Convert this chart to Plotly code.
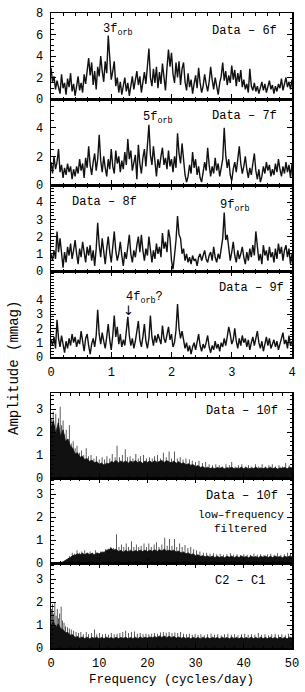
import plotly.graph_objects as go

# ---------------- data ----------------
freq_top = [round(i * 0.025, 3) for i in range(161)]
freq_bot = [round(i * 0.5, 1) for i in range(101)]

amp_6f = [2.9, 1.6, 2.1, 0.9, 1.7, 1.2, 0.5, 2.3, 1.0, 1.5,
          0.4, 1.9, 1.1, 2.4, 0.7, 1.4, 0.3, 1.2, 2.1, 0.8,
          1.5, 0.6, 2.3, 1.4, 2.8, 3.8, 2.2, 3.4, 1.3, 2.6,
          0.9, 3.0, 2.1, 4.0, 2.6, 1.6, 3.5, 2.4, 5.9, 3.6,
          1.8, 2.6, 3.5, 1.2, 2.0, 0.6, 1.6, 0.4, 1.3, 2.0,
          0.7, 1.5, 0.3, 1.1, 2.1, 0.9, 1.8, 2.6, 1.3, 2.1,
          0.6, 1.7, 2.5, 1.4, 3.2, 4.7, 2.0, 1.2, 2.8, 1.5,
          3.0, 1.0, 2.5, 1.4, 3.3, 1.9, 0.8, 2.9, 4.6, 3.0,
          4.3, 2.3, 1.5, 3.4, 2.0, 3.5, 1.3, 2.8, 3.4, 1.6,
          0.8, 2.4, 1.1, 1.8, 0.5, 1.4, 2.2, 1.0, 2.9, 1.5,
          0.6, 1.2, 2.3, 1.4, 0.7, 1.6, 3.0, 1.8, 0.9, 2.0,
          1.2, 0.4, 1.5, 2.1, 3.4, 1.7, 2.6, 1.3, 2.2, 1.5,
          3.1, 1.8, 2.7, 1.2, 2.4, 1.6, 2.7, 1.1, 1.8, 0.9,
          1.4, 0.6, 2.8, 1.2, 0.8, 1.5, 0.7, 1.2, 0.5, 1.0,
          1.6, 0.8, 1.4, 0.6, 1.1, 1.7, 0.9, 1.3, 0.5, 1.2,
          0.7, 1.4, 1.0, 1.9, 0.8, 1.3, 2.0, 1.1, 1.6, 0.9,
          1.8]

amp_7f = [1.6, 0.8, 2.0, 1.1, 1.6, 2.5, 0.9, 1.4, 0.5, 1.2,
          0.7, 1.5, 0.9, 1.3, 0.4, 1.1, 0.6, 1.3, 0.8, 1.8,
          1.0, 1.5, 0.5, 1.9, 1.2, 2.7, 1.4, 0.7, 1.6, 2.2,
          1.0, 1.8, 3.5, 1.7, 0.9, 2.0, 1.2, 0.6, 1.8, 1.1,
          2.5, 1.3, 0.8, 2.4, 1.5, 2.0, 0.9, 1.7, 1.1, 2.3,
          1.4, 3.2, 1.8, 2.4, 1.0, 1.6, 2.1, 0.4, 2.8, 1.5,
          0.8, 1.9, 2.5, 1.3, 2.9, 4.2, 2.1, 1.4, 2.7, 1.6,
          0.6, 1.8, 1.2, 2.0, 2.6, 1.4, 1.9, 1.1, 2.4, 1.3,
          1.8, 0.9, 2.0, 1.2, 3.6, 2.2, 1.5, 2.9, 1.6, 0.7,
          0.2, 0.6, 1.4, 0.8, 2.3, 1.2, 1.8, 0.7, 1.3, 0.5,
          0.2, 0.9, 1.6, 1.0, 2.6, 1.4, 0.6, 1.3, 0.8, 1.9,
          1.0, 1.5, 0.6, 1.2, 1.8, 4.0, 2.1, 1.2, 1.8, 0.7,
          0.3, 1.1, 1.6, 0.9, 1.8, 2.7, 1.5, 0.8, 1.3, 2.0,
          1.1, 0.5, 1.2, 0.7, 1.5, 2.2, 1.0, 0.4, 1.1, 0.2,
          0.6, 1.3, 0.8, 1.6, 1.0, 1.4, 0.6, 1.1, 0.7, 1.5,
          0.9, 1.8, 1.1, 0.6, 1.3, 0.8, 1.6, 0.9, 1.4, 0.5,
          1.5]

amp_8f = [1.0, 0.6, 1.2, 0.7, 2.3, 1.1, 1.9, 0.8, 0.2, 1.1,
          0.5, 1.4, 0.9, 1.6, 0.7, 1.2, 1.8, 1.0, 0.4, 1.3,
          0.8, 1.7, 1.1, 0.5, 1.4, 0.9, 1.5, 0.6, 1.2, 0.3,
          1.3, 2.8, 1.5, 0.8, 1.9, 1.0, 0.4, 1.3, 2.0, 1.1,
          0.5, 1.4, 2.3, 1.2, 0.6, 1.0, 1.7, 0.9, 0.3, 1.1,
          0.7, 1.4, 2.1, 1.0, 0.5, 1.2, 0.8, 1.5, 2.0, 1.1,
          2.1, 1.2, 0.6, 1.3, 0.9, 2.0, 1.1, 0.5, 1.2, 0.7,
          1.6, 1.0, 1.4, 0.8, 2.2, 1.3, 1.7, 1.1, 2.4, 1.9,
          0.6, 0.1, 0.9, 1.8, 3.2, 2.1, 1.9, 1.0, 1.3, 0.6,
          1.0, 0.5, 0.8, 0.4, 0.9, 0.6, 0.7, 0.3, 0.8, 1.0,
          0.6, 0.9, 1.2, 0.7, 0.5, 0.9, 1.1, 0.6, 1.4, 0.8,
          0.5, 1.0, 0.7, 1.3, 1.9, 3.4, 1.8, 2.1, 1.2, 0.6,
          1.1, 1.7, 0.9, 0.5, 1.2, 0.7, 1.0, 1.4, 0.8, 0.4,
          1.1, 0.6, 1.3, 0.8, 1.5, 0.9, 2.3, 1.2, 0.6, 1.0,
          0.4, 1.5, 0.9, 1.2, 0.6, 1.4, 0.8, 1.1, 0.5, 1.3,
          0.7, 1.6, 1.0, 1.4, 0.6, 1.2, 1.5, 0.8, 1.3, 0.4,
          1.0]

amp_9f = [1.2, 0.8, 1.4, 0.6, 2.6, 1.3, 0.7, 1.5, 0.9, 0.3,
          1.1, 0.6, 1.3, 0.8, 1.6, 1.0, 1.4, 0.7, 1.2, 0.9,
          1.8, 1.1, 0.4, 1.3, 1.6, 0.8, 0.2, 0.9, 1.3, 0.7,
          1.5, 3.3, 1.6, 0.9, 1.7, 1.1, 0.6, 1.4, 2.3, 1.2,
          0.5, 1.5, 2.9, 1.4, 2.1, 0.9, 1.6, 0.7, 1.2, 0.8,
          1.6, 2.8, 1.5, 0.8, 1.3, 0.6, 1.1, 1.7, 2.5, 1.2,
          0.7, 1.4, 2.3, 1.1, 0.6, 1.3, 2.9, 1.4, 0.8, 1.5,
          1.0, 1.6, 1.2, 0.9, 2.2, 1.3, 1.0, 1.5, 2.1, 1.2,
          1.6, 0.7, 1.0, 1.9, 3.7, 2.0, 1.3, 1.8, 1.1, 0.6,
          1.0, 0.4, 0.8, 0.2, 0.7, 1.0, 0.5, 1.2, 1.6, 0.8,
          0.4, 0.9, 0.6, 1.0, 1.5, 0.7, 0.3, 0.8, 0.5, 1.1,
          0.6, 0.9, 0.4, 1.0, 0.7, 1.3, 0.8, 1.4, 2.1, 1.6,
          0.9, 1.2, 2.0, 1.1, 0.6, 1.3, 0.8, 1.5, 1.0, 1.3,
          0.7, 1.2, 0.5, 1.0, 1.4, 0.8, 1.2, 1.8, 1.0, 0.6,
          1.1, 0.4, 0.9, 1.4, 0.8, 1.3, 0.6, 1.0, 1.2, 0.7,
          1.1, 0.5, 1.0, 1.3, 1.7, 0.9, 1.2, 0.6, 1.5, 0.8,
          1.1]

env_10f = [2.2, 2.5, 1.9, 2.4, 1.8, 2.1, 1.6, 1.7, 1.4, 1.3,
           1.05, 1.1, 0.9, 0.95, 0.8, 0.85, 0.72, 0.78, 0.66, 0.72,
           0.6, 0.65, 0.56, 0.64, 0.62, 0.72, 0.68, 0.76, 0.66, 0.74,
           0.68, 0.74, 0.64, 0.74, 0.68, 0.76, 0.68, 0.72, 0.64, 0.74,
           0.68, 0.74, 0.66, 0.76, 0.68, 0.72, 0.76, 0.68, 0.76, 0.7,
           0.66, 0.74, 0.64, 0.72, 0.62, 0.66, 0.58, 0.62, 0.56, 0.58,
           0.5, 0.54, 0.46, 0.5, 0.42, 0.47, 0.41, 0.45, 0.4, 0.46,
           0.42, 0.46, 0.4, 0.45, 0.42, 0.47, 0.4, 0.44, 0.41, 0.47,
           0.4, 0.46, 0.39, 0.44, 0.41, 0.47, 0.4, 0.44, 0.41, 0.45,
           0.4, 0.47, 0.4, 0.45, 0.39, 0.44, 0.42, 0.46, 0.4, 0.47,
           0.44]
spk_10f_f = [0.15, 0.45, 0.7, 1.0, 1.25, 1.55, 1.9, 2.2, 2.5, 2.85, 3.15, 3.5, 3.8, 4.2,
             4.6, 5.0, 5.4, 5.9, 6.3, 6.8, 7.3, 7.8, 8.3, 8.9, 9.4, 10.0, 10.6, 11.1,
             11.6, 12.2, 12.7, 13.3, 13.7, 14.2, 14.8, 15.4, 15.9, 16.4, 17.0, 17.6,
             18.1, 18.6, 19.2, 19.8, 20.4, 21.0, 21.5, 22.1, 22.7, 23.3, 23.9, 24.5,
             25.0, 25.6, 26.2, 26.8, 27.4, 28.0, 28.7, 29.3, 30.0, 30.7, 31.4, 32.1,
             32.8, 33.5, 34.2, 34.9, 35.6, 36.3, 37.0, 37.5, 38.2, 38.9, 39.6, 40.3,
             41.0, 41.7, 42.4, 43.1, 43.8, 44.5, 45.2, 45.9, 46.6, 47.3, 48.0, 48.7, 49.4]
spk_10f_a = [2.6, 2.9, 2.3, 2.8, 2.2, 2.6, 3.1, 2.3, 2.5, 1.9, 2.1, 1.7, 2.3, 1.5,
             1.6, 1.3, 1.4, 1.1, 1.2, 1.0, 1.3, 0.95, 1.0, 0.85, 0.95, 0.8, 0.9, 0.8,
             0.95, 0.85, 1.05, 0.9, 1.4, 0.9, 1.0, 1.25, 0.9, 0.95, 0.85, 1.05,
             0.85, 0.95, 1.0, 0.85, 0.9, 0.85, 0.95, 1.0, 0.85, 1.1, 0.9, 1.15,
             0.85, 1.15, 0.85, 0.9, 0.8, 0.85, 0.8, 0.75, 0.7, 0.75, 0.65, 0.7,
             0.6, 0.55, 0.6, 0.55, 0.5, 0.6, 0.55, 0.7, 0.5, 0.55, 0.6, 0.5,
             0.55, 0.5, 0.6, 0.5, 0.6, 0.5, 0.55, 0.6, 0.5, 0.55, 0.5, 0.65, 0.55]

env_filt = [0.0, 0.0, 0.0, 0.0, 0.02, 0.05, 0.1, 0.18, 0.24, 0.33,
            0.34, 0.4, 0.36, 0.42, 0.36, 0.43, 0.37, 0.42, 0.36, 0.44,
            0.4, 0.47, 0.46, 0.56, 0.58, 0.64, 0.56, 0.6, 0.5, 0.55,
            0.47, 0.55, 0.48, 0.56, 0.49, 0.54, 0.5, 0.56, 0.5, 0.56,
            0.5, 0.56, 0.51, 0.58, 0.5, 0.58, 0.52, 0.6, 0.52, 0.56,
            0.52, 0.56, 0.48, 0.52, 0.44, 0.48, 0.4, 0.44, 0.36, 0.4,
            0.32, 0.36, 0.29, 0.32, 0.27, 0.31, 0.25, 0.3, 0.24, 0.29,
            0.24, 0.28, 0.23, 0.29, 0.25, 0.3, 0.23, 0.29, 0.24, 0.3,
            0.25, 0.28, 0.23, 0.3, 0.25, 0.28, 0.23, 0.29, 0.25, 0.3,
            0.23, 0.29, 0.24, 0.3, 0.25, 0.28, 0.23, 0.29, 0.25, 0.3,
            0.27]
spk_filt_f = [3.8, 4.4, 4.9, 5.4, 5.9, 6.4, 7.0, 7.5, 8.1, 8.6, 9.2, 9.7, 10.3, 10.8,
              11.3, 11.9, 12.4, 13.0, 13.6, 14.1, 14.6, 15.1, 15.6, 16.1, 16.7, 17.2,
              17.7, 18.2, 18.7, 19.3, 19.8, 20.3, 20.8, 21.4, 21.9, 22.4, 23.0, 23.6,
              24.1, 24.6, 25.1, 25.6, 26.1, 26.7, 27.2, 27.8, 28.4, 29.0, 29.6, 30.2,
              30.9, 31.6, 32.3, 33.0, 33.7, 34.4, 35.1, 35.8, 36.5, 37.2, 37.9, 38.6,
              39.3, 40.0, 40.7, 41.4, 42.1, 42.8, 43.5, 44.2, 44.9, 45.6, 46.3, 47.0,
              47.7, 48.4, 49.1, 49.7]
spk_filt_a = [0.3, 0.45, 0.4, 0.55, 0.45, 0.5, 0.55, 0.45, 0.5, 0.45, 0.55, 0.45, 0.5, 0.5,
              0.6, 0.62, 0.7, 0.65, 1.25, 0.7, 0.8, 0.7, 0.85, 0.7, 0.95, 0.7,
              0.8, 0.7, 0.75, 0.85, 0.7, 0.85, 0.7, 0.8, 0.9, 0.7, 0.8, 1.1,
              0.75, 1.05, 0.75, 1.05, 0.7, 0.85, 0.7, 0.78, 0.65, 0.7, 0.6, 0.55,
              0.5, 0.45, 0.45, 0.4, 0.42, 0.38, 0.4, 0.36, 0.38, 0.42, 0.36, 0.38,
              0.35, 0.38, 0.36, 0.35, 0.4, 0.36, 0.38, 0.35, 0.38, 0.4, 0.36, 0.42,
              0.36, 0.38, 0.45, 0.4]

env_c2c1 = [1.0, 1.15, 0.9, 1.05, 0.85, 0.8, 0.66, 0.68, 0.56, 0.58,
            0.46, 0.5, 0.42, 0.48, 0.41, 0.47, 0.4, 0.46, 0.42, 0.47,
            0.4, 0.46, 0.41, 0.47, 0.41, 0.46, 0.4, 0.47, 0.41, 0.46,
            0.42, 0.47, 0.4, 0.46, 0.41, 0.47, 0.4, 0.48, 0.42, 0.47,
            0.43, 0.48, 0.44, 0.5, 0.45, 0.52, 0.46, 0.52, 0.45, 0.51,
            0.45, 0.5, 0.43, 0.48, 0.42, 0.47, 0.41, 0.46, 0.4, 0.47,
            0.41, 0.46, 0.4, 0.47, 0.41, 0.46, 0.4, 0.47, 0.41, 0.46,
            0.4, 0.47, 0.41, 0.46, 0.4, 0.47, 0.41, 0.46, 0.4, 0.47,
            0.41, 0.46, 0.4, 0.47, 0.41, 0.46, 0.4, 0.47, 0.41, 0.46,
            0.4, 0.47, 0.41, 0.46, 0.4, 0.47, 0.41, 0.46, 0.4, 0.47,
            0.44]
spk_c2c1_f = [0.1, 0.3, 0.55, 0.8, 1.05, 1.3, 1.55, 1.8, 2.1, 2.4, 2.7, 3.0, 3.4, 3.8,
              4.2, 4.7, 5.2, 5.7, 6.2, 6.7, 7.3, 7.8, 8.4, 9.0, 9.5, 10.1, 10.7, 11.3,
              11.9, 12.5, 13.1, 13.7, 14.3, 14.9, 15.5, 16.1, 16.7, 17.3, 17.9, 18.5,
              19.1, 19.7, 20.3, 20.9, 21.5, 22.1, 22.7, 23.3, 23.9, 24.5, 25.1, 25.7,
              26.3, 26.9, 27.5, 28.1, 28.7, 29.3, 29.9, 30.5, 31.1, 31.8, 32.5, 33.2,
              33.9, 34.6, 35.3, 36.0, 36.7, 37.4, 38.1, 38.8, 39.5, 40.2, 40.9, 41.6,
              42.3, 43.0, 43.7, 44.4, 45.1, 45.8, 46.5, 47.2, 47.9, 48.6, 49.3]
spk_c2c1_a = [1.7, 1.9, 1.5, 2.0, 1.4, 1.7, 1.3, 1.5, 1.8, 1.2, 1.1, 0.95, 0.9, 0.85,
              0.8, 0.75, 0.7, 0.65, 0.7, 0.6, 0.7, 0.6, 0.65, 0.8, 0.6, 0.65, 0.6, 0.62,
              0.58, 0.65, 0.6, 0.62, 0.65, 0.7, 0.75, 0.65, 0.7, 0.72, 0.62, 0.65,
              0.6, 0.62, 0.6, 0.62, 0.65, 0.62, 0.68, 0.7, 0.66, 0.7, 0.65, 0.68,
              0.65, 0.7, 0.62, 0.6, 0.62, 0.58, 0.62, 0.58, 0.6, 0.56, 0.6, 0.62,
              0.58, 0.6, 0.56, 0.6, 0.62, 0.58, 0.6, 0.56, 0.6, 0.62, 0.58, 0.6,
              0.58, 0.65, 0.58, 0.6, 0.56, 0.6, 0.62, 0.58, 0.6, 0.56, 0.62]

# ---------------- layout helpers ----------------
W, H = 305, 692
FONT = "Liberation Mono"
INK = "#111111"


def px_x(p):
    return p / W


def px_y(p):
    return 1 - p / H


xdom = [px_x(51), px_x(292)]


def ydom(top_px, bot_px):
    return [px_y(bot_px), px_y(top_px)]


panels = [
    # (top, bottom, yrange, ytickvals, yminor, group)
    (13, 99, [0, 8], [0, 2, 4, 6, 8], 0.5, "top"),
    (99, 185, [0, 6], [0, 2, 4], 0.5, "top"),
    (185, 271, [0, 5], [0, 1, 2, 3, 4], 0.2, "top"),
    (271, 357, [0, 6], [0, 1, 2, 3, 4], 0.2, "top"),
    (393, 478, [0, 3.7], [0, 1, 2, 3], 0.2, "bot"),
    (478, 563, [0, 3.7], [0, 1, 2, 3], 0.2, "bot"),
    (563, 648, [0, 3.7], [0, 1, 2, 3], 0.2, "bot"),
]

fig = go.Figure()

top_series = [amp_6f, amp_7f, amp_8f, amp_9f]
for k, amp in enumerate(top_series):
    ax = "" if k == 0 else str(k + 1)
    fig.add_trace(go.Scatter(x=freq_top, y=amp, mode="lines",
                             line=dict(color=INK, width=1.4),
                             xaxis="x" + ax, yaxis="y" + ax, hoverinfo="skip"))

bot_series = [(env_10f, spk_10f_f, spk_10f_a),
              (env_filt, spk_filt_f, spk_filt_a),
              (env_c2c1, spk_c2c1_f, spk_c2c1_a)]
for k, (env, sf, sa) in enumerate(bot_series):
    ax = str(k + 5)
    fig.add_trace(go.Scatter(x=freq_bot, y=env, mode="lines", fill="tozeroy",
                             fillcolor=INK, line=dict(color=INK, width=0.8),
                             xaxis="x" + ax, yaxis="y" + ax, hoverinfo="skip"))
    fig.add_trace(go.Bar(x=sf, y=sa, width=0.16, marker=dict(color="#2a2a2a", line=dict(width=0)),
                         xaxis="x" + ax, yaxis="y" + ax, hoverinfo="skip"))

axis_common = dict(showline=True, linecolor="black", linewidth=1.5, mirror="ticks",
                   ticks="inside", ticklen=5, tickwidth=1, tickcolor="black",
                   showgrid=False, zeroline=False, automargin=False,
                   tickfont=dict(family=FONT, size=12, color="black"))

layout = dict(width=W, height=H, autosize=False, showlegend=False,
              margin=dict(l=0, r=0, t=0, b=0, pad=0),
              paper_bgcolor="white", plot_bgcolor="white", barmode="overlay")

for k, (t, b, yr, ytv, ymin, grp) in enumerate(panels):
    n = k + 1
    xk = "xaxis" if n == 1 else f"xaxis{n}"
    yk = "yaxis" if n == 1 else f"yaxis{n}"
    ya = "y" if n == 1 else f"y{n}"
    xa = "x" if n == 1 else f"x{n}"
    if grp == "top":
        xr, xd, xm = [0, 4], 1, 0.2
        show_x = (n == 4)
    else:
        xr, xd, xm = [0, 50], 10, 2
        show_x = (n == 7)
    layout[xk] = dict(axis_common, domain=xdom, anchor=ya, range=xr,
                      tick0=0, dtick=xd, showticklabels=show_x,
                      minor=dict(ticks="inside", ticklen=2.5, dtick=xm, tick0=0,
                                 tickcolor="black", tickwidth=1),
                      ticklabelstandoff=3)
    layout[yk] = dict(axis_common, domain=ydom(t, b), anchor=xa, range=yr,
                      tickmode="array", tickvals=ytv,
                      minor=dict(ticks="inside", ticklen=2.5, dtick=ymin, tick0=0,
                                 tickcolor="black", tickwidth=1),
                      ticklabelstandoff=4)

fig.update_layout(**layout)

lab_font = dict(family=FONT, size=12, color="black")
small_font = dict(family=FONT, size=11, color="black")
ann = [
    dict(text="3f<sub>orb</sub>", x=1.11, y=6.4, xref="x", yref="y"),
    dict(text="Data – 6f", x=3.78, y=6.3, xref="x", yref="y", xanchor="right"),
    dict(text="5f<sub>orb</sub>", x=1.76, y=4.7, xref="x2", yref="y2"),
    dict(text="Data – 7f", x=3.78, y=4.8, xref="x2", yref="y2", xanchor="right"),
    dict(text="Data – 8f", x=0.32, y=4.0, xref="x3", yref="y3", xanchor="left"),
    dict(text="9f<sub>orb</sub>", x=3.04, y=3.8, xref="x3", yref="y3"),
    dict(text="Data – 9f", x=3.9, y=4.8, xref="x4", yref="y4", xanchor="right"),
    dict(text="4f<sub>orb</sub>?", x=1.55, y=4.1, xref="x4", yref="y4"),
    dict(text="↓", x=1.28, y=3.25, xref="x4", yref="y4",
         font=dict(family="DejaVu Sans", size=13, color="black")),
    dict(text="Data – 10f", x=47.5, y=2.9, xref="x5", yref="y5", xanchor="right"),
    dict(text="Data – 10f", x=47.5, y=2.9, xref="x6", yref="y6", xanchor="right"),
    dict(text="low–frequency", x=39.4, y=2.1, xref="x6", yref="y6", font=small_font),
    dict(text="filtered", x=39.4, y=1.5, xref="x6", yref="y6", font=small_font),
    dict(text="C2 – C1", x=44.8, y=2.9, xref="x7", yref="y7", xanchor="right"),
    dict(text="Frequency (cycles/day)", x=px_x(171.5), y=px_y(680), xref="paper", yref="paper",
         font=dict(family=FONT, size=12.5, color="black")),
    dict(text="Amplitude (mmag)", x=px_x(14), y=px_y(368), xref="paper", yref="paper",
         textangle=-90, font=dict(family=FONT, size=14, color="black")),
]
for a in ann:
    a.setdefault("font", lab_font)
    a.setdefault("showarrow", False)
    a.setdefault("xanchor", "center")
    a.setdefault("yanchor", "middle")
fig.update_layout(annotations=ann)

# remove the browser's default 8 px body margin so the figure starts at the corner
fig.write_html("out.html",
               config={"displayModeBar": False, "staticPlot": True},
               post_script="document.body.style.margin='0';document.body.style.overflow='hidden';")
